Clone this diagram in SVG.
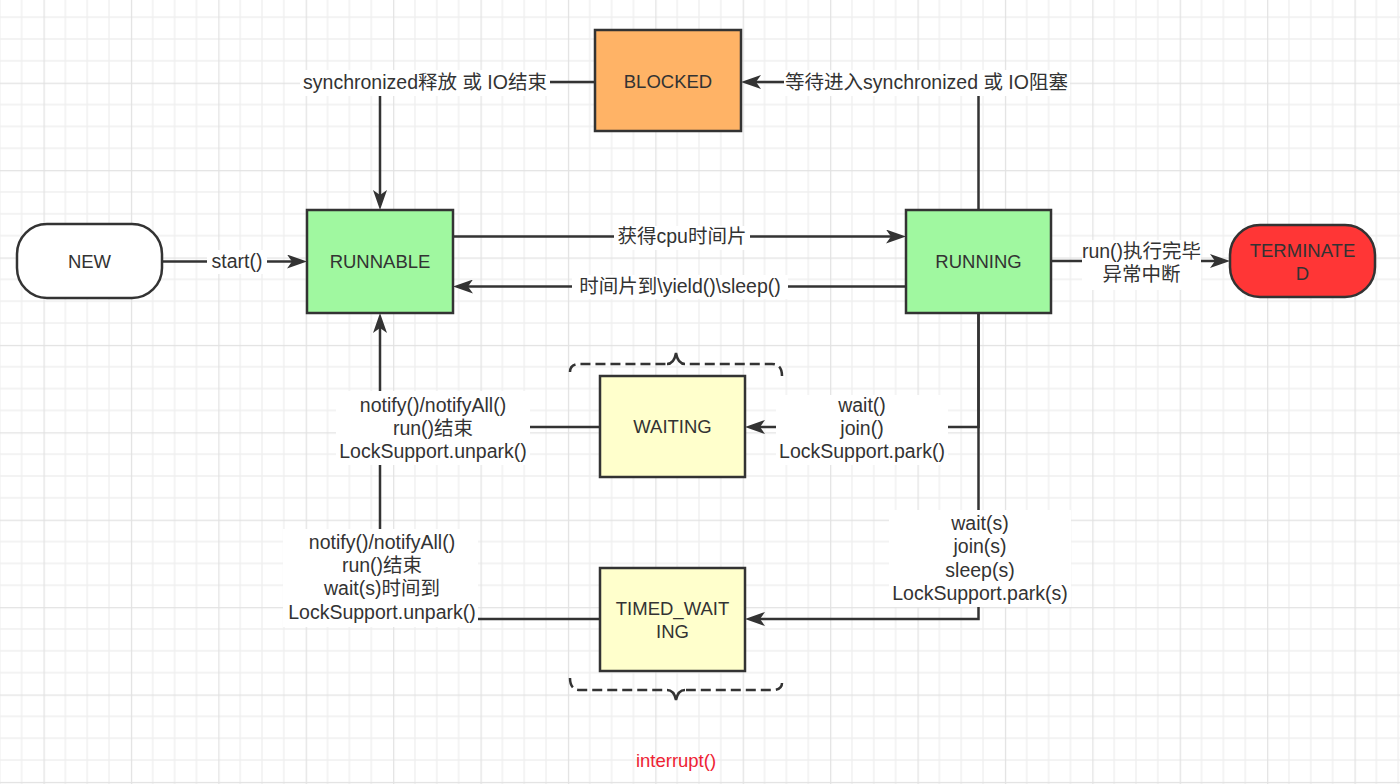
<svg xmlns="http://www.w3.org/2000/svg" width="1400" height="784" viewBox="0 0 1400 784">
<style>
text{font-family:"Liberation Sans","Noto Sans CJK SC",sans-serif;fill:#333;text-anchor:middle}
.nl{font-size:18.5px}
.el{font-size:19.5px}
.node{stroke:#333;stroke-width:2.5}
.edge{fill:none;stroke:#333;stroke-width:2.5;marker-end:url(#arr)}
.line{fill:none;stroke:#333;stroke-width:2.5}
.bg{fill:#fff}
.brace{fill:none;stroke:#333;stroke-width:2.5;stroke-dasharray:10 5}
.tip{fill:none;stroke:#333;stroke-width:2.5}
</style>
<defs>
<pattern id="grid" patternUnits="userSpaceOnUse" x="43.5" y="82.7" width="87.4" height="87.4">
<path d="M21.85,0V87.4M43.7,0V87.4M65.55,0V87.4M0,21.85H87.4M0,43.7H87.4M0,65.55H87.4" stroke="#efefef" stroke-width="1.3" fill="none"/>
<path d="M0.5,0V87.4M0,0.5H87.4" stroke="#e2e2e2" stroke-width="1.5" fill="none"/>
</pattern>
<marker id="arr" viewBox="0 0 20 14" refX="14" refY="7" markerWidth="20" markerHeight="14" orient="auto" markerUnits="userSpaceOnUse">
<path d="M0,0 L20,7 L0,14 L5,7 Z" fill="#333"/>
</marker>
</defs>
<rect width="1400" height="784" fill="#fff"/>
<rect width="1400" height="784" fill="url(#grid)"/>

<g id="connectors">
<g id="e-start"><path class="edge" d="M163,261.5H301"/><rect class="bg" x="207" y="250" width="60" height="24"/><text class="el" x="237" y="268">start()</text></g>
<g id="e-cpu"><path class="edge" d="M453,236.5H900"/><rect class="bg" x="614" y="226" width="136" height="24"/><text class="el" x="682" y="243">获得cpu时间片</text></g>
<g id="e-yield"><path class="edge" d="M906,286.5H459"/><rect class="bg" x="572" y="275" width="216" height="24"/><text class="el" x="680" y="293">时间片到\yield()\sleep()</text></g>
<g id="e-block"><path class="edge" d="M978.5,210V82H747"/><rect class="bg" x="784" y="70" width="286" height="26"/><text class="el" x="926.5" y="89">等待进入synchronized 或 IO阻塞</text></g>
<g id="e-unblock"><path class="edge" d="M595,82H380V204"/><rect class="bg" x="300" y="70" width="250" height="26"/><text class="el" x="425" y="89">synchronized释放 或 IO结束</text></g>
<g id="e-wait"><path class="edge" d="M978.5,313V427H751"/><rect class="bg" x="776" y="395" width="172" height="70"/><text class="el" x="862" y="412">wait()</text><text class="el" x="862" y="435">join()</text><text class="el" x="862" y="458">LockSupport.park()</text></g>
<g id="e-timedwait"><path class="edge" d="M978.5,313V619H751"/><rect class="bg" x="889" y="510" width="182" height="97"/><text class="el" x="980" y="530">wait(s)</text><text class="el" x="980" y="553">join(s)</text><text class="el" x="980" y="577">sleep(s)</text><text class="el" x="980" y="600">LockSupport.park(s)</text></g>
<g id="e-notify"><path class="edge" d="M600,427H380V319"/><rect class="bg" x="336" y="391" width="194" height="74"/><text class="el" x="433" y="412">notify()/notifyAll()</text><text class="el" x="433" y="435">run()结束</text><text class="el" x="433" y="458">LockSupport.unpark()</text></g>
<g id="e-timednotify"><path class="line" d="M600,619H380V465"/><rect class="bg" x="283" y="529" width="195" height="98"/><text class="el" x="382" y="549">notify()/notifyAll()</text><text class="el" x="382" y="572">run()结束</text><text class="el" x="382" y="595">wait(s)时间到</text><text class="el" x="382" y="619">LockSupport.unpark()</text></g>
<g id="e-term"><path class="edge" d="M1051,261H1224"/><rect class="bg" x="1082" y="240" width="119" height="50"/><text class="el" x="1141.5" y="258">run()执行完毕</text><text class="el" x="1141.5" y="281">异常中断</text></g>
</g>

<g id="NEW"><rect class="node" x="17" y="224" width="145" height="74" rx="30" fill="#fff"/><text class="nl" x="89.5" y="268">NEW</text></g>
<g id="RUNNABLE"><rect class="node" x="307" y="210" width="146" height="103" fill="#a0f8a0"/><text class="nl" x="380" y="268">RUNNABLE</text></g>
<g id="BLOCKED"><rect class="node" x="595" y="30" width="146" height="101" fill="#ffb366"/><text class="nl" x="668" y="88">BLOCKED</text></g>
<g id="RUNNING"><rect class="node" x="906" y="210" width="145" height="103" fill="#a0f8a0"/><text class="nl" x="978.5" y="268">RUNNING</text></g>
<g id="TERMINATED"><rect class="node" x="1230" y="225" width="145" height="72" rx="30" fill="#ff3636"/><text class="nl" x="1302.5" y="257">TERMINATE</text><text class="nl" x="1302.5" y="280">D</text></g>
<g id="WAITING"><rect class="node" x="600" y="376" width="145" height="101" fill="#ffffcc"/><text class="nl" x="672.5" y="433">WAITING</text></g>
<g id="TIMED_WAITING"><rect class="node" x="600" y="568" width="145" height="103" fill="#ffffcc"/><text class="nl" x="672.5" y="615">TIMED_WAIT</text><text class="nl" x="672.5" y="638">ING</text></g>

<g id="braces">
<path class="brace" d="M570,372Q570,364 580,364H666"/>
<path class="brace" d="M782,376Q782,364 772,364H686"/>
<path class="tip" d="M667,364Q674,364 676,353Q678,364 685,364"/>
<path class="brace" d="M570,678Q570,690 580,690H666"/>
<path class="brace" d="M782,683Q782,690 772,690H686"/>
<path class="tip" d="M667,690Q674,690 676,700Q678,690 685,690"/>
</g>
<text id="interrupt" x="676" y="767" style="font-size:18.5px;fill:#ee2233">interrupt()</text>
</svg>
